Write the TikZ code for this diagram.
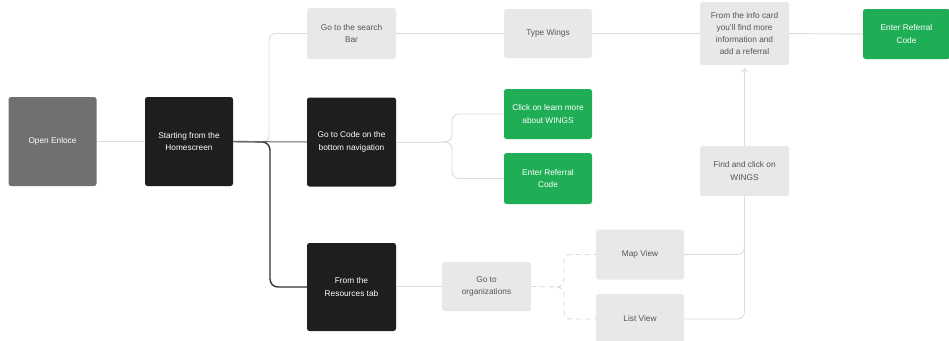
\documentclass[tikz,border=0pt]{standalone}
\usepackage{fontspec}
\setmainfont{Liberation Sans}
\usetikzlibrary{arrows.meta,calc}
\definecolor{darkbox}{HTML}{1E1E1E}
\definecolor{greybox}{HTML}{707070}
\definecolor{lightbox}{HTML}{E8E8E8}
\definecolor{greenbox}{HTML}{1FAE55}
\definecolor{lighttext}{HTML}{555555}
\definecolor{lightline}{HTML}{DCDCDC}
\definecolor{midline}{HTML}{6A6A6A}
\definecolor{darkline}{HTML}{333333}
\begin{document}
\begin{tikzpicture}[x=1pt,y=-1pt,
  box/.style={rectangle, rounded corners=2.5pt, inner sep=2pt, align=center,
    font=\fontsize{8.3}{12.3}\selectfont, minimum width=88pt},
  darkstep/.style={box, fill=darkbox, text=white, minimum height=89pt},
  greystep/.style={box, fill=greybox, text=white, minimum height=89pt},
  lightstep/.style={box, fill=lightbox, text=lighttext, minimum height=50pt},
  greenstep/.style={box, fill=greenbox, text=white, minimum height=50pt},
  lightconn/.style={draw=lightline, line width=0.9pt, rounded corners=7pt},
  midconn/.style={draw=midline, line width=1pt},
  darkconn/.style={draw=darkline, line width=1.4pt, rounded corners=8pt},
  dashconn/.style={draw=lightline, line width=0.9pt, dash pattern=on 5pt off 4pt, rounded corners=7pt}
]
\useasboundingbox (0,0) rectangle (949,340);
\fill[white] (0,0) rectangle (949,340);

% nodes
\node[greystep] (open) at (52.5,141.5) {Open Enloce};
\node[darkstep] (start) at (189,141.5) {Starting from the\\Homescreen};
\node[lightstep, minimum width=89pt, minimum height=51pt] (search) at (351.5,33.5) {Go to the search\\Bar};
\node[darkstep, minimum width=89pt] (code) at (351.5,142) {Go to Code on the\\bottom navigation};
\node[darkstep, minimum width=89pt, minimum height=88pt] (res) at (351.5,287) {From the\\Resources tab};
\node[lightstep, minimum height=49pt] (type) at (548,33.5) {Type Wings};
\node[greenstep] (learn) at (548,114) {Click on learn more\\about WINGS};
\node[greenstep, minimum height=51pt] (refmid) at (548,178.5) {Enter Referral\\Code};
\node[lightstep, minimum width=89pt, minimum height=49pt] (org) at (486.5,286.5) {Go to\\organizations};
\node[lightstep, minimum width=89pt, minimum height=63pt] (info) at (744.5,33.5) {From the info card\\you'll find more\\information and\\add a referral};
\node[lightstep, minimum width=89pt] (find) at (744.5,171) {Find and click on\\WINGS};
\node[lightstep] (map) at (640,254.5) {Map View};
\node[lightstep] (list) at (640,319) {List View};
\node[greenstep, minimum width=87pt] (refright) at (906.5,34) {Enter Referral\\Code};

% helper coordinates
\coordinate (bt) at (442,142);
\coordinate (dt) at (557,287);
\coordinate (tip) at ($(info.south)+(0,3)$);

% connectors
\draw[lightconn] (open) -- (start);
\draw[lightconn] (start.east) -- (269,142) -- (269,33.5) -- (search.west);
\draw[darkconn] (start.east) -- (270,142) -- (270,287) -- (res.west);
\draw[midconn] (start.east) -- (code.west);

\draw[lightconn] (search) -- (type);
\draw[lightconn] (type) -- (type -| info.west);
\draw[lightconn] (info) -- (refright);

\draw[lightconn, rounded corners=0pt] (code.east) -- (bt);
\draw[lightconn] (bt) -- (452,142) -- (452,114) -- (learn.west);
\draw[lightconn] (bt) -- (452,142) -- (452,178.5) -- (refmid.west);

\draw[lightconn] (res.east |- org.west) -- (org.west);
\draw[dashconn, rounded corners=0pt] (org.east) -- (dt);
\draw[dashconn] (dt) -- (564,287) -- (564,254.5) -- (map.west);
\draw[dashconn] (dt) -- (564,287) -- (564,319) -- (list.west);

\draw[lightconn] (map.east) -- (744.5,254.5) -- (find.south);
\draw[lightconn] (list.east) -- (744.5,319) -- (find.south);
\draw[lightconn, -{Straight Barb[length=3pt,width=6pt]}] (find.north) -- (tip);
\end{tikzpicture}
\end{document}
